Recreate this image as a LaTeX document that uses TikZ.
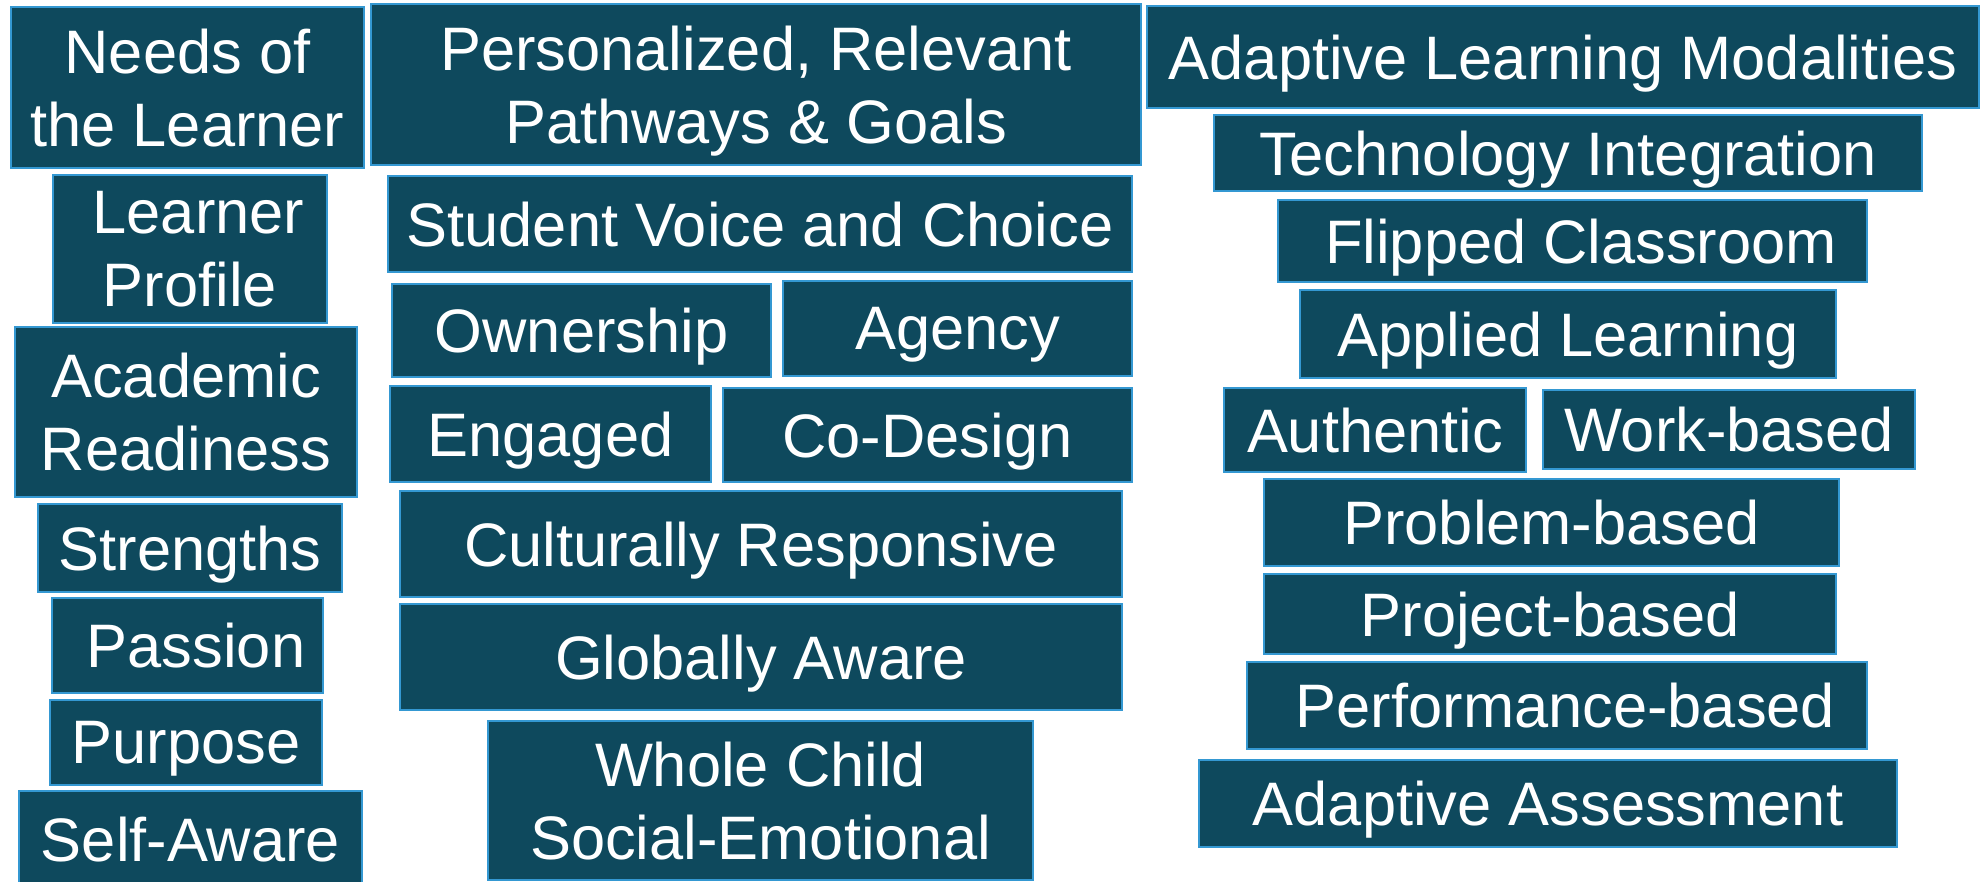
\documentclass[tikz,border=0pt]{standalone}
\usepackage{fontspec}
\setmainfont{Liberation Sans}
\definecolor{boxfill}{RGB}{14,73,93}
\definecolor{boxline}{RGB}{52,152,210}
\tikzset{
  bbox/.style={draw=boxline, line width=0.9pt, fill=boxfill, text=white, inner sep=0pt,
    align=center, text depth=0pt, font=\fontsize{30.7}{36.5}\selectfont}
}
\newcommand{\bx}[6]{\node[bbox, minimum width={(#4-#2)*0.5pt}, minimum height={(#5-#3)*0.5pt}] (#1) at ({(#2+#4)/2},{(#3+#5)/2}) {#6};}
\begin{document}
\begin{tikzpicture}[x=0.5pt,y=-0.5pt]
\useasboundingbox (0,0) rectangle (1986,882);
% left column
\bx{needs}{11}{7}{364}{168}{Needs of\\the Learner}
\bx{profile}{53}{175}{327}{323}{\hspace*{8.5pt}Learner\\Profile}
\bx{academic}{15}{327}{357}{497}{Academic\\Readiness}
\bx{strengths}{38}{504}{342}{592}{Strengths}
\bx{passion}{52}{598}{323}{693}{\hspace*{8.5pt}Passion}
\bx{purpose}{50}{700}{322}{785}{Purpose}
\bx{selfaware}{19}{791}{362}{887}{Self-Aware}
% middle column
\bx{pers}{371}{4}{1141}{165}{Personalized, Relevant\\Pathways \& Goals}
\bx{voice}{388}{176}{1132}{272}{Student Voice and Choice}
\bx{owner}{392}{284}{771}{377}{Ownership}
\bx{agency}{783}{281}{1132}{376}{Agency}
\bx{engaged}{390}{386}{711}{482}{Engaged}
\bx{codesign}{723}{388}{1132}{482}{Co-Design}
\bx{cultural}{400}{491}{1122}{597}{Culturally Responsive}
\bx{global}{400}{604}{1122}{710}{Globally Aware}
\bx{whole}{488}{721}{1033}{880}{Whole Child\\Social-Emotional}
% right column
\bx{alm}{1147}{6}{1979}{108}{Adaptive Learning Modalities}
\bx{tech}{1214}{115}{1922}{191}{Technology Integration}
\bx{flipped}{1278}{200}{1867}{282}{\hspace*{8.5pt}Flipped Classroom}
\bx{applied}{1300}{290}{1836}{378}{Applied Learning}
\bx{authentic}{1224}{388}{1526}{472}{Authentic}
\bx{work}{1543}{390}{1915}{469}{Work-based}
\bx{problem}{1264}{479}{1839}{566}{Problem-based}
\bx{project}{1264}{574}{1836}{654}{Project-based}
\bx{perf}{1247}{662}{1867}{749}{\hspace*{8.5pt}Performance-based}
\bx{assess}{1199}{760}{1897}{847}{Adaptive Assessment}
\end{tikzpicture}
\end{document}
